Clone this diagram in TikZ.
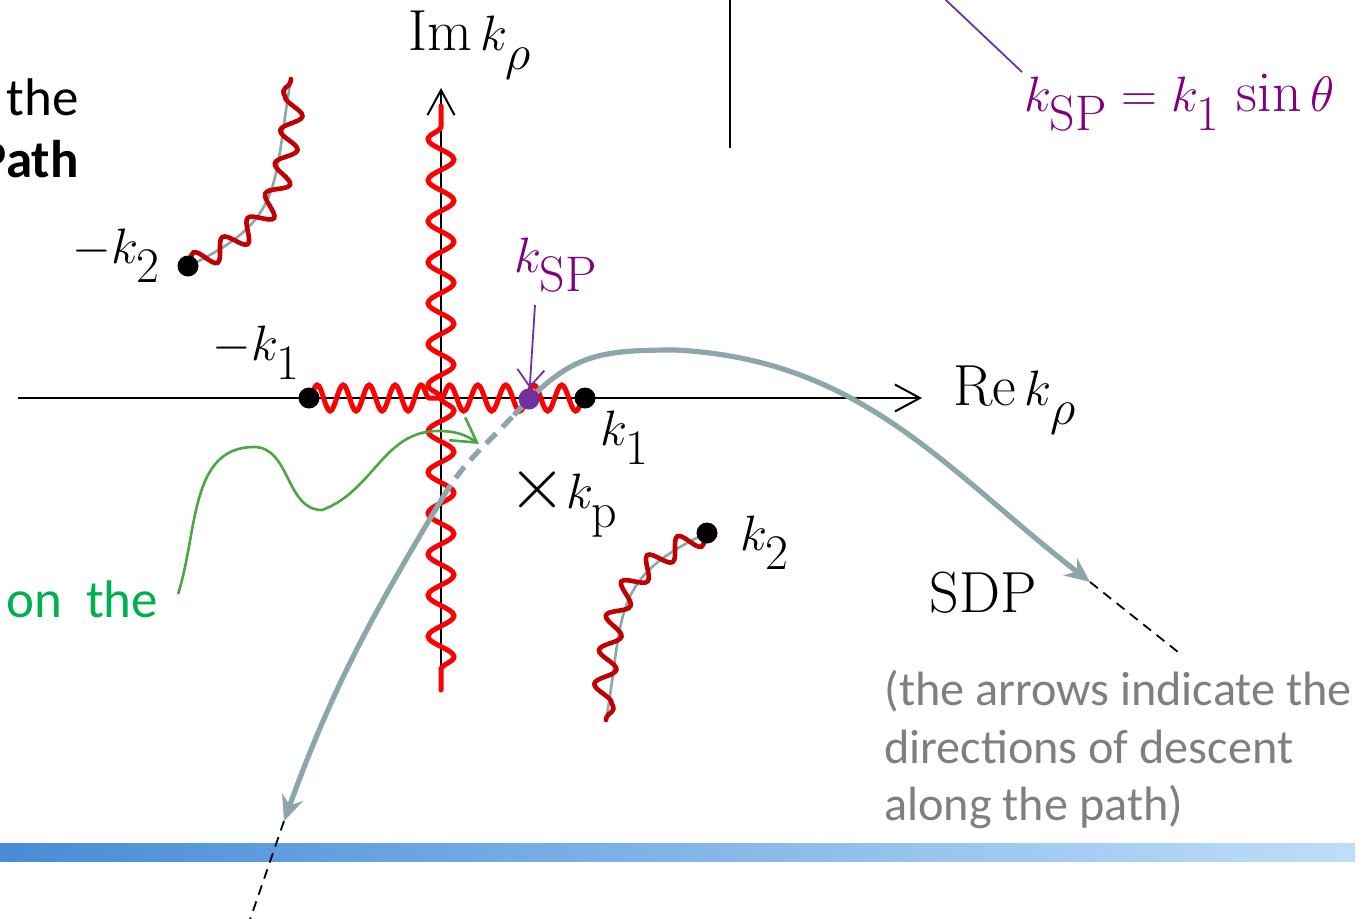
\documentclass[tikz,border=0pt]{standalone}
\usepackage{amsmath,amssymb}
\usepackage{fontspec}
\usepackage{tikz}
\usetikzlibrary{arrows.meta,decorations.pathmorphing,backgrounds}
\newfontfamily\slidefont{Carlito}
\DeclareMathSizes{29}{29}{25}{18}
\newcommand{\lsub}[1]{_{\raisebox{-6pt}{$\scriptstyle #1$}}}
\definecolor{sdpgray}{RGB}{140,166,170}
\definecolor{cutred}{RGB}{255,0,0}
\definecolor{cutdark}{RGB}{192,0,0}
\definecolor{sppurple}{RGB}{112,48,160}
\definecolor{sptext}{RGB}{128,0,128}
\definecolor{arrgreen}{RGB}{76,166,70}
\definecolor{txtgreen}{RGB}{0,176,80}
\definecolor{txtgray}{RGB}{127,127,127}
\definecolor{barleft}{RGB}{70,140,215}
\definecolor{barright}{RGB}{190,222,248}
\tikzset{
  >={Straight Barb[length=12.5pt,width=13.5pt]},
  axis/.style={line width=1pt,->},
  pole/.style={circle,fill=black,inner sep=0pt,minimum size=10.5pt},
  spdot/.style={circle,fill=sppurple,inner sep=0pt,minimum size=10.5pt},
  cut/.style={cutred,line width=2.5pt,line cap=round,decorate,
    decoration={snake,amplitude=6.5pt,segment length=13pt}},
  cutv/.style={cut,decoration={snake,amplitude=6.5pt,segment length=20.5pt}},
  cutdk/.style={cutdark,line width=2.3pt,line cap=round,decorate,
    decoration={snake,amplitude=5pt,segment length=17pt}},
  sdp/.style={sdpgray,line width=2.6pt},
  sdptip/.style={sdp,-{Stealth[length=12.5pt,width=11pt]}},
  sdpthin/.style={sdpgray,line width=1.3pt},
  ext/.style={line width=0.9pt,dash pattern=on 5pt off 3.5pt},
  purpleln/.style={sppurple,line width=0.9pt},
  sparr/.style={purpleln,-{Straight Barb[length=8.5pt,width=13.5pt]}},
  garr/.style={arrgreen,line width=1.3pt,-{Straight Barb[length=12pt,width=14pt]}},
  mlab/.style={font=\fontsize{29}{34}\selectfont,inner sep=0pt,anchor=base west},
  slide/.style={font=\slidefont\fontsize{26.5}{31}\selectfont,inner sep=0pt},
  desc/.style={font=\slidefont\fontsize{24.1}{28}\selectfont,text=txtgray,
    inner sep=0pt,anchor=base west},
}
\begin{document}
\begin{tikzpicture}[x=0.5pt,y=-0.5pt]
  \useasboundingbox (0,0) rectangle (1367,918);
  \clip (0,0) rectangle (1367,918);
  % branch points
  \node[pole] (mk1) at (309,398) {};
  \node[pole] (k1) at (585,398) {};
  \node[pole] (mk2) at (188,266) {};
  \node[pole] (k2) at (707,533) {};
  \node[mlab] (mk1lab) at (212,360) {$-k\lsub{1}$};
  \node[mlab] (k1lab) at (600,445) {$k\lsub{1}$};
  \node[mlab] (mk2lab) at (72,263) {$-k\lsub{2}$};
  \node[mlab] (k2lab) at (740,550) {$k\lsub{2}$};
  \node[mlab] (kplab) at (508,508)
    {$\text{\scalebox{1.5}{$\times$}}k\lsub{\mathrm{p}}$};
  \coordinate (O) at (441,398);
  \begin{scope}[on background layer]
    % bar at the foot of the slide
    \shade[left color=barleft,right color=barright] (0,843) rectangle (1355,861);
    % piece of the figure above
    \draw[line width=1pt] (730,0) -- (730,148);
    % axes
    \coordinate (reL) at (18,398);
    \coordinate (reR) at (922,398);
    \coordinate (imB) at (441,690);
    \coordinate (imT) at (441,88);
    \draw[axis] (reL) -- (reR);
    \draw[axis] (imB) -- (imT);
    % cuts of k2 along the path
    \coordinate (mk2end) at (291,79);
    \coordinate (k2end) at (606,720);
    \draw[sdpthin] (mk2.center) to[out=25,in=260,looseness=1.3] (mk2end);
    \draw[cutdk] (mk2.center) to[out=25,in=260,looseness=1.3] (mk2end);
    \draw[sdpthin] (k2.center) to[out=205,in=80,looseness=1.3] (k2end);
    \draw[cutdk] (k2.center) to[out=205,in=80,looseness=1.3] (k2end);
    % cuts of k1
    \coordinate (cutT) at (441,106);
    \coordinate (cutB) at (441,690);
    \draw[cut,decoration={segment length=13pt}] (mk1.center) -- (O);
    \draw[cut,decoration={segment length=14pt}] (O) -- (k1.center);
    \draw[cutv] (O) -- (cutT);
    \draw[cutv] (O) -- (cutB);
  \end{scope}
  \node[mlab] (relab) at (953,405) {$\mathrm{Re}\,k\lsub{\rho}$};
  \node[mlab] (imlab) at (408,50) {$\mathrm{Im}\,k\lsub{\rho}$};
  % steepest descent path
  \coordinate (sdpA) at (284,821);
  \coordinate (dashlo) at (443,497);
  \coordinate (dashhi) at (514,415);
  \coordinate (sdptop) at (676,350);
  \coordinate (sdpB) at (1090,582);
  \coordinate (sdpAx) at (243,940);
  \coordinate (sdpBx) at (1178,652);
  \draw[sdptip] (dashlo) to[out=239,in=70] (sdpA);
  \draw[sdp,dash pattern=on 7pt off 4.5pt] (dashlo) to[out=59,in=227] (dashhi);
  \draw[sdptip] (dashhi) to[out=47,in=180,looseness=1.2] (sdptop)
    to[out=-3,in=142] (sdpB);
  \draw[ext] (sdpB) -- (sdpBx);
  \draw[ext] (sdpA) -- (sdpAx);
  \node[mlab] (sdplab) at (929,612) {SDP};
  % saddle point
  \node[spdot] (sp) at (529,399) {};
  \node[mlab,text=sptext] (splab) at (514,272) {$k\lsub{\mathrm{SP}}$};
  \coordinate (sptail) at (535,305);
  \draw[sparr] (sptail) -- (sp);
  \node[mlab,text=sptext] (speq) at (1024,111)
    {$k\lsub{\mathrm{SP}}=k\lsub{1}\,\sin\theta$};
  \coordinate (speqtail) at (1022,72);
  \coordinate (speqhead) at (930,-15);
  \draw[purpleln] (speqtail) -- (speqhead);
  % green pointer
  \coordinate (gstart) at (178,594);
  \coordinate (gpeak) at (254,447);
  \coordinate (gtrough) at (322,510);
  \coordinate (gtop) at (438,431);
  \coordinate (gtip) at (479,444);
  \draw[garr] (gstart) to[out=72,in=180] (gpeak) to[out=0,in=180] (gtrough)
    to[out=20,in=180] (gtop) to[out=0,in=145] (gtip);
  % slide text
  \node[slide,anchor=base east] (the) at (79,115) {the};
  \node[slide,anchor=base east,font=\slidefont\bfseries\fontsize{26.5}{31}\selectfont]
    (path) at (79,177) {Path};
  \node[slide,anchor=base west,text=txtgreen] (onthe) at (6,617) {on\ \ the};
  \node[desc] (desc1) at (884,705) {(the arrows indicate the};
  \node[desc] (desc2) at (884,763) {directions of descent};
  \node[desc] (desc3) at (884,820) {along the path)};
\end{tikzpicture}
\end{document}
